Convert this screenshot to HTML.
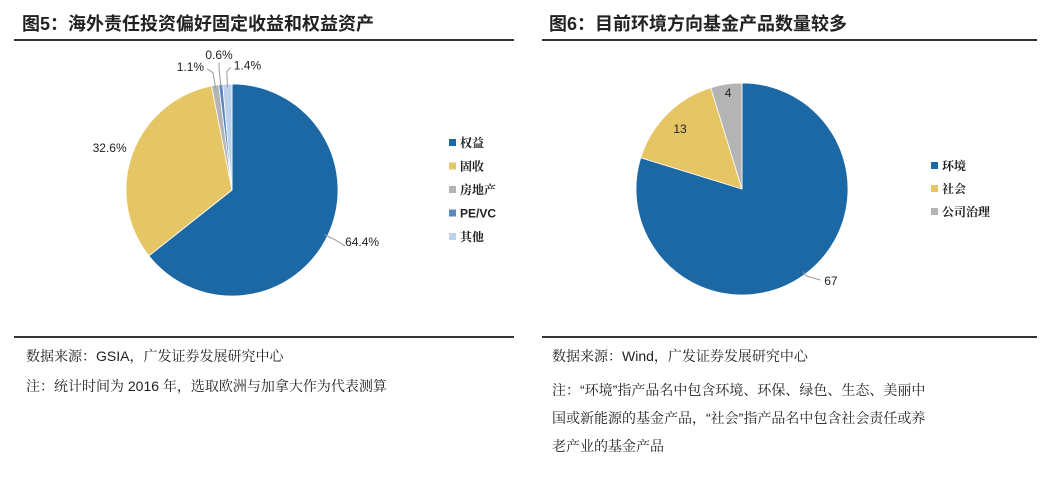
<!DOCTYPE html>
<html><head><meta charset="utf-8"><style>
body{margin:0;width:1059px;height:477px;background:#fff;overflow:hidden;font-family:"Liberation Sans","Noto Sans CJK SC",sans-serif;position:relative}
.t{position:absolute;white-space:nowrap;color:#222}
.title{font-size:18px;font-weight:bold;top:10px}
.line{position:absolute;height:2px;background:#333}
.src{font-size:14px;font-family:"Liberation Sans","Noto Serif CJK SC",serif;color:#222}
</style></head><body>
<div class="t title" style="left:22px">图5：海外责任投资偏好固定收益和权益资产</div>
<div class="t title" style="left:549px">图6：目前环境方向基金产品数量较多</div>
<div class="line" style="left:14px;width:500px;top:39px"></div>
<div class="line" style="left:542px;width:495px;top:39px"></div>
<div class="line" style="left:14px;width:500px;top:336px"></div>
<div class="line" style="left:542px;width:495px;top:336px"></div>
<div class="t src" style="left:26px;top:346px">数据来源：GSIA，广发证券发展研究中心</div>
<div class="t src" style="left:26px;top:376px">注：统计时间为 2016 年，选取欧洲与加拿大作为代表测算</div>
<div class="t src" style="left:552px;top:346px">数据来源：Wind，广发证券发展研究中心</div>
<div class="t src" style="left:552px;top:376px;line-height:28px">注：“环境”指产品名中包含环境、环保、绿色、生态、美丽中<br>国或新能源的基金产品，“社会”指产品名中包含社会责任或养<br>老产业的基金产品</div>
<svg id="svg" width="1059" height="477" style="position:absolute;left:0;top:0"></svg>
<script>
const leftCats=["权益","固收","房地产","PE/VC","其他"];
const leftVals=[64.4,32.6,1.1,0.6,1.4];
const leftLabels=["64.4%","32.6%","1.1%","0.6%","1.4%"];
const rightCats=["环境","社会","公司治理"];
const rightVals=[67,13,4];
const rightLabels=["67","13","4"];
const NS="http://www.w3.org/2000/svg";
const svg=document.getElementById('svg');
function mk(tag,attrs){const e=document.createElementNS(NS,tag);for(const k in attrs)e.setAttribute(k,attrs[k]);svg.appendChild(e);return e;}
function pt(cx,cy,r,a){return [cx+r*Math.sin(a),cy-r*Math.cos(a)];}
// label offsets relative to slice mid-angle anchor
function pie(cx,cy,r,cats,vals,labels,colors,labelPos,prefix,legX,legY,legGap){
  const tot=vals.reduce((a,b)=>a+b,0);let a0=0;
  vals.forEach((v,i)=>{
    const a1=a0+v/tot*2*Math.PI;
    const p0=pt(cx,cy,r,a0),p1=pt(cx,cy,r,a1);
    const large=(a1-a0)>Math.PI?1:0;
    const p=mk('path',{d:`M${cx},${cy}L${p0[0]},${p0[1]}A${r},${r} 0 ${large} 1 ${p1[0]},${p1[1]}Z`,fill:colors[i],stroke:'#fff','stroke-width':0.8});
    
    
    const mid=(a0+a1)/2;const lp=labelPos[i];
    const [lx,ly]=pt(cx,cy,r*lp.f,mid);
    const ex=lx+lp.dx, ey=ly+lp.dy;
    if(lp.lead){const e=pt(cx,cy,r*0.97,mid);
      const l=mk('polyline',{points:`${e[0]},${e[1]} ${lx},${ly} ${ex},${ey}`,fill:'none',stroke:'#999','stroke-width':1});
      
      }
    const t=mk('text',{x:ex+lp.tx,y:ey+lp.ty,'font-size':12,fill:'#222','text-anchor':lp.anchor||'middle','font-family':'Liberation Sans, sans-serif'});
    t.textContent=labels[i];
    
    
    a0=a1;
  });
  cats.forEach((c,i)=>{
    const y=legY+i*legGap;
    const s=mk('rect',{x:legX,y:y-4,width:7,height:7,fill:colors[i]});
    
    
    const t=mk('text',{x:legX+11,y:y+4,'font-size':12,'font-weight':'bold',fill:'#222','font-family':'Liberation Sans, Noto Serif CJK SC, serif'});
    t.textContent=c;
    
    
  });
}
pie(232,190,106,leftCats,leftVals,leftLabels,['#1c68a5','#e6c565','#b4b4b4','#5a86c2','#bcd1ea'],
 [{f:1.08,lead:true,dx:10,dy:6,tx:0,ty:0,anchor:'start'},{f:1.15,lead:false,dx:0,dy:0,tx:-8,ty:4},
  {f:1.12,lead:true,dx:-6,dy:-4,tx:-3,ty:2,anchor:'end'},{f:1.15,lead:true,dx:0,dy:-6,tx:0,ty:-4},{f:1.12,lead:true,dx:4,dy:-4,tx:3,ty:2,anchor:'start'}],
 'left',449,143,23.5);
pie(742,189,106,rightCats,rightVals,rightLabels,['#1c68a5','#e6c565','#b4b4b4'],
 [{f:1.02,lead:true,dx:14,dy:4,tx:4,ty:5,anchor:'start'},{f:0.72,lead:false,dx:0,dy:0,tx:-8,ty:-2},{f:0.88,lead:false,dx:0,dy:0,tx:0,ty:0}],
 'right',931,166,23);
</script>
</body></html>
